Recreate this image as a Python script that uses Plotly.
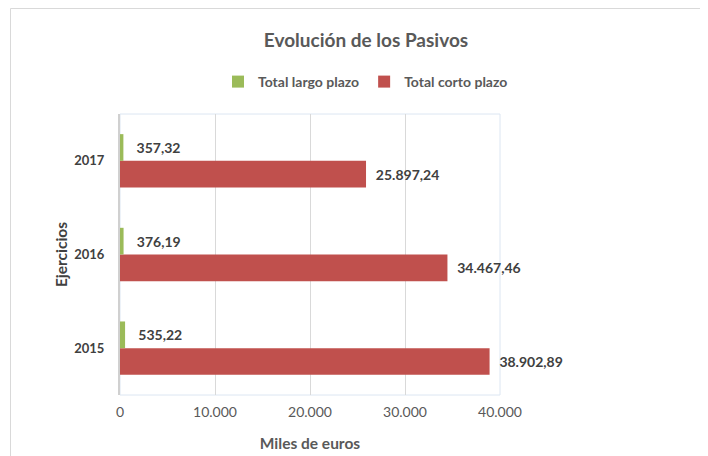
import plotly.graph_objects as go

years = ["2015", "2016", "2017"]
largo_plazo = [535.22, 376.19, 357.32]
corto_plazo = [38902.89, 34467.46, 25897.24]
x_ticks = [0, 10000, 20000, 30000, 40000]

FONT = "Lato"
OFF = 8  # page offset of the rendered figure
W, H = 708, 456
L, T = 120 - OFF, 114 - OFF
pw, ph = 380, 281
R, B = W - L - pw, H - T - ph

def sx(px):  # screen px -> paper x
    return (px - OFF - L) / pw

def sy(py):  # screen px -> paper y
    return (T + ph - (py - OFF)) / ph

label_font = dict(family=FONT, size=14, color="#404040", weight="bold")

fig = go.Figure()
fig.add_trace(go.Bar(
    name="Total corto plazo", y=years, x=corto_plazo, orientation="h",
    marker=dict(color="#C0504D", line=dict(width=0)),
    texttemplate="\u00a0\u00a0%{x:,.2f}", textposition="outside",
    textfont=label_font, cliponaxis=False, constraintext="none", legendrank=2,
))
fig.add_trace(go.Bar(
    name="Total largo plazo", y=years, x=largo_plazo, orientation="h",
    marker=dict(color="#9BBB59", line=dict(width=0)),
    texttemplate="\u00a0\u00a0\u00a0%{x:,.2f}", textposition="outside",
    textfont=label_font, cliponaxis=False, constraintext="none", legendrank=1,
))

fig.update_layout(
    width=W, height=H, autosize=False,
    margin=dict(l=L, r=R, t=T, b=B, pad=0),
    paper_bgcolor="white", plot_bgcolor="white",
    separators=",.",
    barmode="group", bargap=0.43, bargroupgap=0,
    font=dict(family=FONT, color="#595959"),
    title=dict(text="Evolución de los Pasivos", xref="container", x=(366 - OFF) / W, xanchor="center",
               yref="container", y=1 - (40 - OFF) / H, yanchor="middle",
               font=dict(family=FONT, size=19, color="#595959", weight="bold")),
    legend=dict(orientation="h", xref="container", yref="container",
                x=(218 - OFF) / W, xanchor="left", y=1 - (82 - OFF) / H, yanchor="middle",
                font=dict(family=FONT, size=14, color="#595959", weight="bold"),
                itemwidth=30, traceorder="normal", bgcolor="rgba(0,0,0,0)"),
    xaxis=dict(range=[0, 40000], tickvals=x_ticks, tickformat=",.0f",
               showgrid=True, gridcolor="#D9D9D9", gridwidth=1, zeroline=False,
               showline=False, ticks="", ticklabelstandoff=7,
               tickfont=dict(family=FONT, size=14, color="#595959"),
               title=dict(text="Miles de euros", standoff=19,
                          font=dict(family=FONT, size=15.5, color="#595959", weight="bold"))),
    yaxis=dict(type="category", categoryorder="array", categoryarray=years,
               showgrid=False, zeroline=False, showline=True, linecolor="#D0D0D0", linewidth=2,
               ticks="", ticklabelstandoff=11,
               tickfont=dict(family=FONT, size=13, color="#404040", weight="bold"),
               title=dict(text="Ejercicios", standoff=3,
                          font=dict(family=FONT, size=15.5, color="#404040", weight="bold"))),
    shapes=[
        dict(type="rect", xref="paper", yref="paper", x0=0, x1=1, y0=0, y1=1,
             line=dict(color="#DCE6F2", width=1), layer="below"),
        dict(type="rect", xref="paper", yref="paper",
             x0=sx(10.5), x1=sx(730), y0=sy(480), y1=sy(8.5),
             line=dict(color="#D9D9D9", width=1), layer="below"),
    ],
)

fig.write_html("out.html")
